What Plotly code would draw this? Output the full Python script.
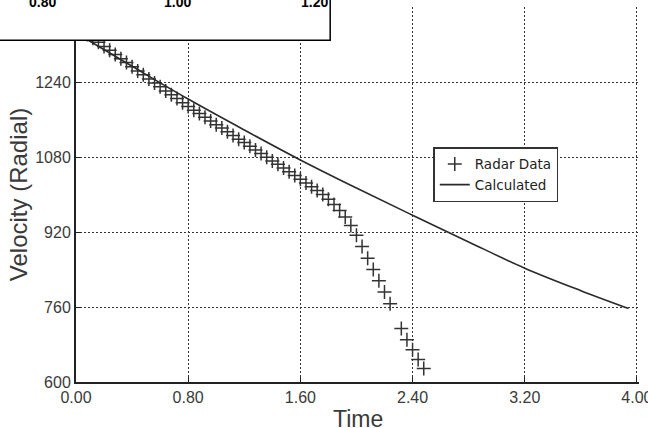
import plotly.graph_objects as go

# ---- data ----
radar_time = [0.04, 0.08, 0.12, 0.16, 0.20, 0.24, 0.28, 0.32, 0.36, 0.40,
              0.44, 0.48, 0.52, 0.56, 0.60, 0.64, 0.68, 0.72, 0.76, 0.80,
              0.84, 0.88, 0.92, 0.96, 1.00, 1.04, 1.08, 1.12, 1.16, 1.20,
              1.24, 1.28, 1.32, 1.36, 1.40, 1.44, 1.48, 1.52, 1.56, 1.60,
              1.64, 1.68, 1.72, 1.76, 1.80, 1.84, 1.88, 1.92, 1.96, 2.00,
              2.04, 2.08, 2.12, 2.16, 2.20, 2.24,
              2.32, 2.36, 2.40, 2.44, 2.48]
radar_velocity = [1351, 1342, 1334, 1325, 1316, 1308, 1299, 1290, 1282, 1273,
                  1264, 1256, 1247, 1238, 1230, 1221, 1213, 1205, 1196, 1188,
                  1180, 1173, 1165, 1157, 1149, 1142, 1134, 1126, 1118, 1111,
                  1103, 1095, 1088, 1080, 1072, 1065, 1057, 1049, 1041, 1033,
                  1025, 1017, 1009, 1000, 990, 979, 966, 952, 934, 913,
                  889, 864, 840, 816, 792, 767,
                  714, 690, 669, 648, 629]

calc_time = [0.0, 0.4, 0.8, 1.2, 1.6, 2.0, 2.4, 2.8, 3.2, 3.6, 3.94]
calc_velocity = [1345, 1274, 1204, 1138, 1074, 1014, 956, 899, 843, 795, 757]

x_ticks = [0.0, 0.8, 1.6, 2.4, 3.2, 4.0]
x_tick_labels = ["0.00", "0.80", "1.60", "2.40", "3.20", "4.00"]
y_ticks = [600, 760, 920, 1080, 1240, 1400]
y_tick_labels = ["600", "760", "920", "1080", "1240", ""]

overlay_labels = ["0.80", "1.00", "1.20"]
overlay_label_x = [-0.059, 0.180, 0.424]

x_title = "Time"
y_title = "Velocity (Radial)"

# ---- figure ----
fig = go.Figure()
fig.add_trace(go.Scatter(
    x=radar_time, y=radar_velocity, mode="markers", name="Radar Data",
    marker=dict(symbol="cross-thin", size=10, color="#333",
                line=dict(width=1.5, color="#333")),
))
fig.add_trace(go.Scatter(
    x=calc_time, y=calc_velocity, mode="lines", name="Calculated",
    line=dict(color="#2a2a2a", width=1.6, shape="spline"),
))

FONT = "Liberation Sans, Arial, sans-serif"
axis_font = dict(family=FONT, size=16, color="#3a3a3a")
grid_common = dict(showgrid=True, gridcolor="#333", gridwidth=1, griddash="2px,2px",
                   zeroline=False, showline=True, linecolor="#222", linewidth=2,
                   ticks="inside", ticklen=5, tickcolor="#222", automargin=False,
                   tickfont=axis_font, ticklabeloverflow="allow")

fig.update_xaxes(range=[0, 4.015], tickvals=x_ticks, ticktext=x_tick_labels,
                 **grid_common)
fig.update_yaxes(range=[600, 1400.5], tickvals=y_ticks, ticktext=y_tick_labels,
                 title=dict(text=y_title, font=dict(family=FONT, size=24, color="#3a3a3a"), standoff=1),
                 **grid_common)

shapes = [dict(type="rect", xref="paper", yref="paper",
               x0=-0.16, x1=0.4515, y0=0.9112, y1=1.06,
               fillcolor="white", line=dict(color="black", width=1.5), layer="above")]

annotations = [dict(text=x_title, xref="paper", yref="paper", x=0.5, y=-0.099,
                    xanchor="center", yanchor="middle", showarrow=False,
                    font=dict(family=FONT, size=23, color="#3a3a3a"))]
for lab, xp in zip(overlay_labels, overlay_label_x):
    annotations.append(dict(text="<b>%s</b>" % lab, xref="paper", yref="paper",
                            x=xp, y=1.0125, xanchor="center", yanchor="middle",
                            showarrow=False,
                            font=dict(family=FONT, size=14, color="black")))

fig.update_layout(
    width=648, height=428,
    margin=dict(l=76, r=9, t=7, b=46),
    paper_bgcolor="white", plot_bgcolor="white",
    showlegend=True,
    legend=dict(x=0.6346, y=0.626, xanchor="left", yanchor="top",
                bgcolor="white", bordercolor="#333", borderwidth=1.5,
                font=dict(family="DejaVu Sans, sans-serif", size=13.5, color="#222"),
                tracegroupgap=0, itemwidth=30),
    shapes=shapes,
    annotations=annotations,
)

fig.write_html("out.html", config={"displayModeBar": False},
               post_script="document.body.style.margin='0';document.body.style.padding='0';")
